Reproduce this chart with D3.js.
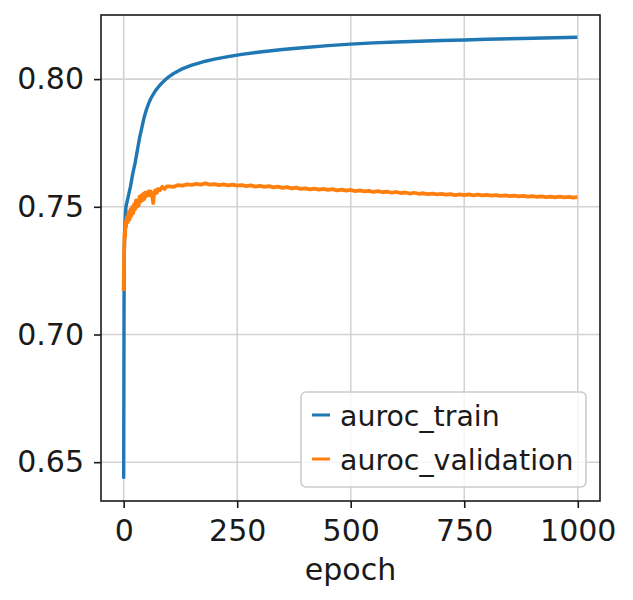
<!DOCTYPE html>
<html>
<head>
<meta charset="utf-8">
<script src="https://cdn.jsdelivr.net/npm/d3@7"></script>
<style>
    body { margin: 0; background: #fff; font-family: "DejaVu Sans", sans-serif; }
    svg { display: block; }
</style>
</head>
<body>
<div id="container"><svg></svg></div>
<script>
// ---- data ----
let train_epoch = [0, 1, 2, 3, 5, 10, 15, 20, 25, 30, 35, 40, 45, 50, 55, 60, 70, 80, 90, 100,
    110, 120, 130, 140, 150, 160, 180, 200, 230, 260, 300, 350, 400, 450, 500, 550, 600, 650, 700,
    750, 800, 850, 900, 950, 999];
let train_auroc = [0.6435, 0.728, 0.738, 0.744, 0.750, 0.754, 0.758, 0.763, 0.767, 0.772, 0.777,
    0.781, 0.785, 0.788, 0.7905, 0.7925, 0.7955, 0.7977, 0.7995, 0.801, 0.8022, 0.8032, 0.8041,
    0.8048, 0.8055, 0.806, 0.807, 0.8078, 0.8088, 0.8097, 0.8106, 0.8116, 0.8124, 0.8131, 0.8137,
    0.8142, 0.8145, 0.8148, 0.8151, 0.8153, 0.8156, 0.8158, 0.816, 0.8162, 0.8164];

let val_epoch = [0, 1, 2, 3, 4, 5, 7, 9, 11, 13, 15, 17, 19, 21, 23, 25, 27, 29, 31, 33, 35, 37,
    39, 41, 43, 45, 47, 49, 51, 53, 55, 57, 59, 62, 65, 67, 70, 73, 76, 80, 85, 90, 95,
    100, 110, 120, 130, 140, 150, 160, 170, 180, 190, 200, 210, 220, 230, 240, 250, 260, 270, 280,
    290, 300, 310, 320, 330, 340, 350, 360, 370, 380, 390, 400, 410, 420, 430, 440, 450, 460, 470,
    480, 490, 500, 510, 520, 530, 540, 550, 560, 570, 580, 590, 600, 610, 620, 630, 640, 650, 660,
    670, 680, 690, 700, 710, 720, 730, 740, 750, 760, 770, 780, 790, 800, 810, 820, 830, 840, 850,
    860, 870, 880, 890, 900, 910, 920, 930, 940, 950, 960, 970, 980, 990, 999];
let val_auroc = [0.717, 0.733, 0.740, 0.738, 0.744, 0.742, 0.746, 0.744, 0.748, 0.745, 0.749,
    0.7465, 0.750, 0.7475, 0.751, 0.749, 0.7525, 0.750, 0.7525, 0.7505, 0.754, 0.752, 0.7545,
    0.7525, 0.755, 0.753, 0.7555, 0.754, 0.7555, 0.7545, 0.756, 0.7545, 0.756, 0.755, 0.7515,
    0.7555, 0.7565, 0.7555, 0.757, 0.7565, 0.7578, 0.757, 0.758,
    0.758, 0.7578, 0.7585, 0.7583, 0.7588, 0.7586, 0.759, 0.7587, 0.7592, 0.7587, 0.7589, 0.7585,
    0.7588, 0.7584, 0.7587, 0.7583, 0.7585, 0.7581, 0.7584, 0.7579, 0.7582, 0.7578, 0.7581, 0.7576,
    0.7579, 0.7574, 0.7577, 0.7572, 0.7575, 0.757, 0.7572, 0.7568, 0.7571, 0.7567, 0.757, 0.7566,
    0.7569, 0.7564, 0.7567, 0.7563, 0.7566, 0.7561, 0.7564, 0.756, 0.7562, 0.7558, 0.7561, 0.7557,
    0.7559, 0.7555, 0.7558, 0.7554, 0.7556, 0.7552, 0.7555, 0.7551, 0.7553, 0.755, 0.7552, 0.7549,
    0.7551, 0.7548, 0.755, 0.7546, 0.7549, 0.7546, 0.7549, 0.7545, 0.7548, 0.7545, 0.7547, 0.7544,
    0.7546, 0.7543, 0.7545, 0.7542, 0.7544, 0.7541, 0.7543, 0.754, 0.7542, 0.7539, 0.7541, 0.7538,
    0.754, 0.7537, 0.754, 0.7537, 0.7539, 0.7536, 0.7538];

let x_ticks = [0, 250, 500, 750, 1000];
let y_ticks = [0.65, 0.70, 0.75, 0.80];
let series_names = ['auroc_train', 'auroc_validation'];
let series_colors = ['#1f77b4', '#ff7f0e'];
let series_widths = [3.4, 3.8];

let width = 633, height = 600;
let padding = { left: 101, right: 33, top: 15, bottom: 99 };
let fontFamily = '"DejaVu Sans", sans-serif';

function draw_main() {
    let svg = d3.select('#container').select('svg')
        .attr('width', width)
        .attr('height', height)
        .style('font-family', fontFamily);

    let x = d3.scaleLinear()
        .domain([-49.95, 1048.95])
        .range([padding.left, width - padding.right]);
    let y = d3.scaleLinear()
        .domain([0.6348, 0.8251])
        .range([height - padding.bottom, padding.top]);

    // grid
    let grid = svg.append('g').attr('class', 'grid');
    grid.selectAll('line.gx').data(x_ticks).enter().append('line')
        .attr('x1', d => x(d)).attr('x2', d => x(d))
        .attr('y1', padding.top).attr('y2', height - padding.bottom)
        .attr('stroke', '#d3d3d3').attr('stroke-width', 1.6);
    grid.selectAll('line.gy').data(y_ticks).enter().append('line')
        .attr('y1', d => y(d)).attr('y2', d => y(d))
        .attr('x1', padding.left).attr('x2', width - padding.right)
        .attr('stroke', '#d3d3d3').attr('stroke-width', 1.6);

    // lines
    let line = d3.line()
        .x(d => x(d[0]))
        .y(d => y(d[1]));
    let series = [
        train_epoch.map((e, i) => [e, train_auroc[i]]),
        val_epoch.map((e, i) => [e, val_auroc[i]])
    ];
    series.forEach((s, i) => {
        svg.append('path').datum(s)
            .attr('d', line).attr('fill', 'none')
            .attr('stroke', series_colors[i]).attr('stroke-width', series_widths[i])
            .attr('stroke-linejoin', 'round').attr('stroke-linecap', 'butt');
    });

    // axes
    let axis_x = d3.axisBottom(x).tickValues(x_ticks).tickSize(7).tickPadding(12).tickFormat(d => d);
    let gx = svg.append('g')
        .attr('transform', `translate(0, ${height - padding.bottom})`)
        .call(axis_x);
    let axis_y = d3.axisLeft(y).tickValues(y_ticks).tickSize(7).tickPadding(10).tickFormat(d3.format('.2f'));
    let gy = svg.append('g')
        .attr('transform', `translate(${padding.left}, 0)`)
        .call(axis_y);
    [gx, gy].forEach(g => {
        g.select('.domain').remove();
        g.selectAll('.tick line').attr('stroke', '#1a1a1a').attr('stroke-width', 1.6);
        g.selectAll('.tick text').attr('fill', '#1a1a1a')
            .attr('font-family', fontFamily).attr('font-size', '30px');
    });

    // frame
    svg.append('rect')
        .attr('x', padding.left).attr('y', padding.top)
        .attr('width', width - padding.left - padding.right)
        .attr('height', height - padding.top - padding.bottom)
        .attr('fill', 'none').attr('stroke', '#1a1a1a').attr('stroke-width', 1.6);

    // x label
    svg.append('text')
        .attr('x', (padding.left + width - padding.right) / 2)
        .attr('y', 580)
        .attr('text-anchor', 'middle')
        .attr('font-size', '30px')
        .attr('fill', '#1a1a1a')
        .text('epoch');

    // legend
    let lg = svg.append('g');
    lg.append('rect')
        .attr('x', 301).attr('y', 392).attr('width', 285).attr('height', 95)
        .attr('rx', 5)
        .attr('fill', 'white').attr('fill-opacity', 0.8)
        .attr('stroke', '#cccccc').attr('stroke-width', 1.6);
    series_names.forEach((name, i) => {
        let cy = 415 + i * 44;
        lg.append('line')
            .attr('x1', 312).attr('x2', 330).attr('y1', cy).attr('y2', cy)
            .attr('stroke', series_colors[i]).attr('stroke-width', 3);
        lg.append('text')
            .attr('x', 340).attr('y', cy + 11)
            .attr('font-size', '28.4px')
            .attr('fill', '#1a1a1a')
            .text(name);
    });
}

draw_main();
</script>
</body>
</html>
